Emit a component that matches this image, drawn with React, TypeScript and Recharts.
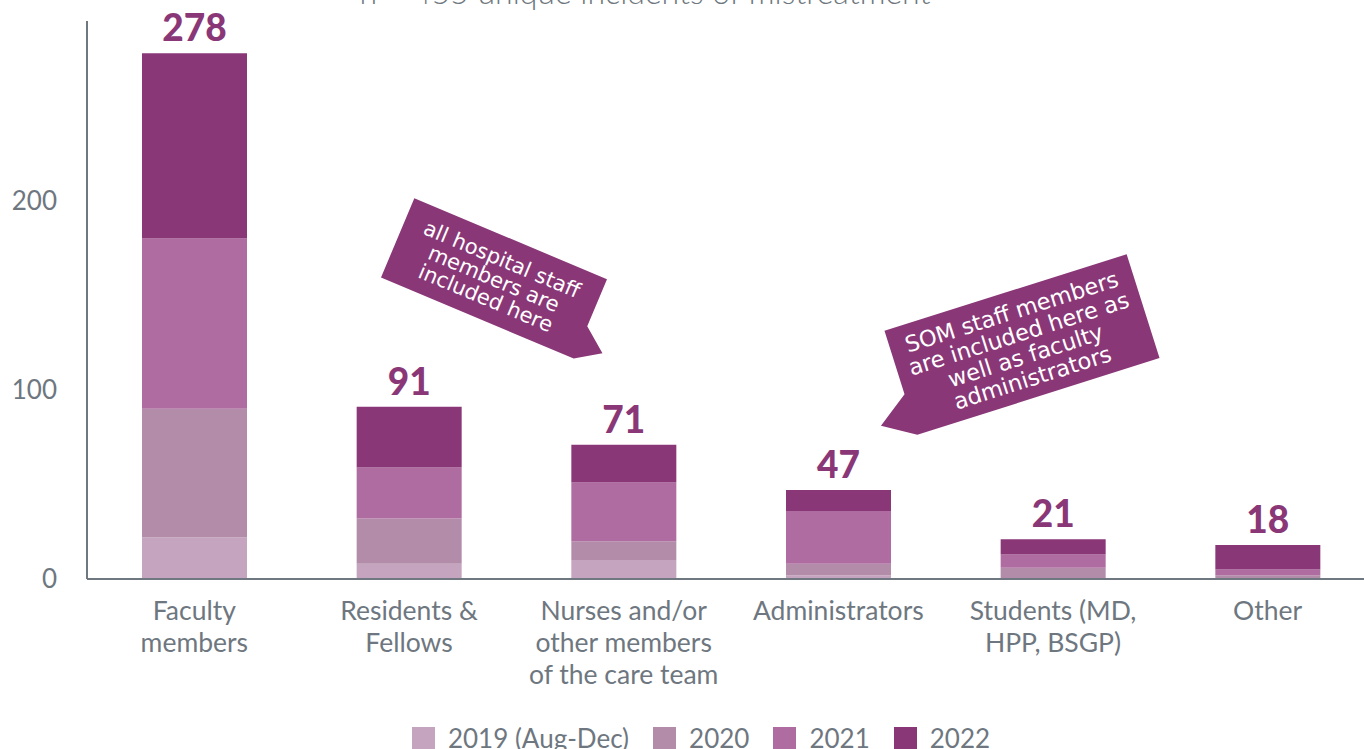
import React from "react";
import {
  BarChart,
  Bar,
  XAxis,
  YAxis,
  LabelList,
  Legend,
  ReferenceDot,
} from "recharts";

const categories = [
  "Faculty members",
  "Residents & Fellows",
  "Nurses and/or other members of the care team",
  "Administrators",
  "Students (MD, HPP, BSGP)",
  "Other",
];
const categoryLines = [
  ["Faculty", "members"],
  ["Residents &", "Fellows"],
  ["Nurses and/or", "other members", "of the care team"],
  ["Administrators"],
  ["Students (MD,", "HPP, BSGP)"],
  ["Other"],
];
const values2019 = [22, 8, 10, 2, 0, 0];
const values2020 = [68, 24, 10, 6, 6, 2];
const values2021 = [90, 27, 31, 28, 7, 3];
const values2022 = [98, 32, 20, 11, 8, 13];
const totals = [278, 91, 71, 47, 21, 18];
const yTicks = [0, 100, 200];

const seriesNames = ["2019 (Aug-Dec)", "2020", "2021", "2022"];
const seriesColors = ["#c4a4bf", "#b28ca9", "#af6ca0", "#8a3778"];

const titleText = "n = 455 unique incidents of mistreatment";
const callout1Lines = ["all hospital staff", "members are", "included here"];
const callout2Lines = [
  "SOM staff members",
  "are included here as",
  "well as faculty",
  "administrators",
];

const data = categories.map((c, i) => ({
  category: c,
  y2019: values2019[i],
  y2020: values2020[i],
  y2021: values2021[i],
  y2022: values2022[i],
  total: totals[i],
}));

const GRAY = "#6e7780";
const PURPLE = "#8a3778";

const XTick = (props: any) => {
  const { x, y, payload } = props;
  const idx = categories.indexOf(payload.value);
  const lines = idx >= 0 ? categoryLines[idx] : [payload.value];
  return (
    <text
      x={x}
      y={y + 41}
      textAnchor="middle"
      fill={GRAY}
      fontFamily="Lato"
      fontSize={26.5}
    >
      {lines.map((l: string, i: number) => (
        <tspan key={i} x={x} dy={i === 0 ? 0 : 32}>
          {l}
        </tspan>
      ))}
    </text>
  );
};

const makeCallout =
  (
    lines: string[],
    w: number,
    h: number,
    angle: number,
    dx: number,
    dy: number,
    side: "right" | "left",
    fontSize: number,
    lineH: number
  ) =>
  (props: any) => {
    const { cx, cy } = props;
    const hw = w / 2;
    const hh = h / 2;
    let pts: number[][];
    if (side === "right") {
      pts = [
        [-hw, -hh],
        [hw, -hh],
        [hw, 8],
        [hw + 24.5, 27],
        [hw, hh],
        [-hw, hh],
      ];
    } else {
      pts = [
        [-hw, -hh],
        [hw, -hh],
        [hw, hh],
        [-hw, hh],
        [-hw - 32, 35],
        [-hw, 12],
      ];
    }
    const n = lines.length;
    return (
      <g transform={`translate(${cx + dx},${cy + dy}) rotate(${angle})`}>
        <polygon points={pts.map((p) => p.join(",")).join(" ")} fill={PURPLE} />
        <text
          textAnchor="middle"
          fill="#ffffff"
          fontFamily="DejaVu Sans"
          fontSize={fontSize}
        >
          {lines.map((l, i) => (
            <tspan
              key={i}
              x={0}
              y={(i - (n - 1) / 2) * lineH + fontSize * 0.36}
            >
              {l}
            </tspan>
          ))}
        </text>
      </g>
    );
  };

const Callout1 = makeCallout(callout1Lines, 209, 86, 22.8, 85, 2, "right", 21, 21);
const Callout2 = makeCallout(callout2Lines, 254, 109, -17.55, -31, 0, "left", 22.5, 23);

const LegendContent = (props: any) => {
  const { payload } = props;
  return (
    <div
      style={{
        display: "flex",
        justifyContent: "center",
        alignItems: "center",
        fontFamily: "Lato",
        fontSize: 26,
        color: GRAY,
        paddingLeft: 22,
      }}
    >
      {(payload || []).map((p: any, i: number) => (
        <div
          key={i}
          style={{ display: "flex", alignItems: "center", marginRight: i < 3 ? 24 : 0 }}
        >
          <div
            style={{
              width: 23,
              height: 23,
              background: p.color,
              marginRight: 13,
            }}
          />
          <span>{p.value}</span>
        </div>
      ))}
    </div>
  );
};

const Title = () => (
  <text
    x={645}
    y={4}
    textAnchor="middle"
    fill={GRAY}
    style={{ fill: GRAY }}
    fontFamily="Lato"
    fontWeight={300}
    fontSize={32}
  >
    {titleText}
  </text>
);

export default function App() {
  return (
    <div
      style={{
        position: "fixed",
        left: 0,
        top: 0,
        width: 1364,
        height: 749,
        overflow: "hidden",
        background: "#ffffff",
      }}
    >
      <BarChart
        width={1380}
        height={749}
        data={data}
        margin={{ top: 21, right: 5, bottom: 0, left: 0 }}
        barSize={105}
      >
        <XAxis
          dataKey="category"
          interval={0}
          tickLine={false}
          tickSize={0}
          tickMargin={0}
          axisLine={{ stroke: "#6f7880", strokeWidth: 2 }}
          height={170}
          tick={<XTick />}
        />
        <YAxis
          width={87}
          domain={[0, 295]}
          ticks={yTicks}
          tickLine={false}
          tickSize={0}
          tickMargin={30}
          axisLine={{ stroke: "#6f7880", strokeWidth: 2 }}
          tick={{ fill: GRAY, fontFamily: "Lato", fontSize: 26 }}
          allowDataOverflow
        />
        <Legend
          verticalAlign="middle"
          align="center"
          layout="horizontal"
          wrapperStyle={{ top: 722, left: 0, width: 1380 }}
          content={<LegendContent />}
        />
        <Bar dataKey="y2019" name={seriesNames[0]} stackId="a" fill={seriesColors[0]} isAnimationActive={false} />
        <Bar dataKey="y2020" name={seriesNames[1]} stackId="a" fill={seriesColors[1]} isAnimationActive={false} />
        <Bar dataKey="y2021" name={seriesNames[2]} stackId="a" fill={seriesColors[2]} isAnimationActive={false} />
        <Bar dataKey="y2022" name={seriesNames[3]} stackId="a" fill={seriesColors[3]} isAnimationActive={false}>
          <LabelList
            dataKey="total"
            position="top"
            offset={12}
            fill={PURPLE}
            fontFamily="Lato"
            fontWeight={900}
            fontSize={37}
          />
        </Bar>
        <ReferenceDot
          x={categories[1]}
          y={160}
          ifOverflow="visible"
          shape={Callout1}
        />
        <ReferenceDot
          x={categories[4]}
          y={124}
          ifOverflow="visible"
          shape={Callout2}
        />
        <Title />
      </BarChart>
    </div>
  );
}
